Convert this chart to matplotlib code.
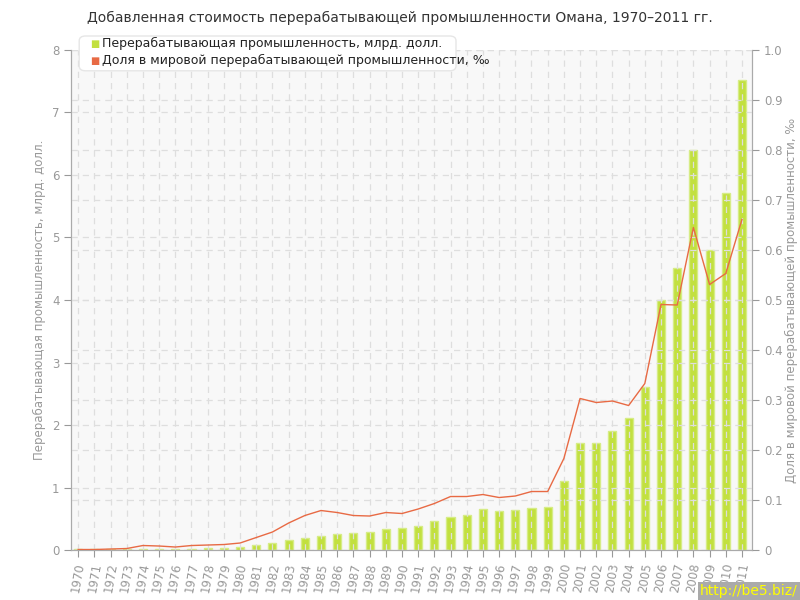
import numpy as np
import matplotlib.pyplot as plt
from matplotlib.patches import FancyBboxPatch

years = list(range(1970, 2012))
value_bn = [0.01, 0.01, 0.01, 0.01, 0.02, 0.02, 0.02, 0.02, 0.03, 0.04,
            0.05, 0.08, 0.11, 0.16, 0.19, 0.23, 0.26, 0.27, 0.29, 0.34,
            0.35, 0.39, 0.46, 0.53, 0.56, 0.66, 0.62, 0.64, 0.67, 0.69,
            1.10, 1.71, 1.71, 1.90, 2.11, 2.61, 4.00, 4.51, 6.40, 4.80,
            5.71, 7.52]
share_permille = [0.001, 0.001, 0.002, 0.003, 0.009, 0.008, 0.006, 0.009, 0.010, 0.011,
                  0.014, 0.025, 0.036, 0.054, 0.069, 0.079, 0.075, 0.069, 0.068, 0.075,
                  0.073, 0.082, 0.093, 0.107, 0.107, 0.111, 0.105, 0.108, 0.117, 0.117,
                  0.183, 0.303, 0.295, 0.298, 0.289, 0.333, 0.491, 0.490, 0.645, 0.531,
                  0.553, 0.661]

GRAY = "#999999"
BAR = "#c2e03f"
LINE = "#e86a44"

fig = plt.figure(figsize=(8, 6), dpi=100)
ax = fig.add_axes([0.089, 0.0833, 0.851, 0.8334])
ax.set_facecolor("#f8f8f8")

ax.bar(years, value_bn, width=0.5, color=BAR, edgecolor="#d6ec86", linewidth=1, zorder=2)
ax.set_xlim(1969.57, 2011.62)
ax.set_ylim(0, 8)
ax.set_yticks(range(0, 9))
ax.set_xticks(years)
ax.set_xticklabels([str(y) for y in years], rotation=80, ha="center", va="top")
ax.grid(True, color="#dedede", linestyle=(0, (5, 4)), linewidth=0.9, zorder=3)
ax.set_axisbelow(False)

ax2 = ax.twinx()
ax2.plot(years, share_permille, color=LINE, linewidth=1.0, zorder=5)
ax2.set_ylim(0, 1)
ax2.set_yticks(np.arange(0, 1.01, 0.1))
ax2.set_yticklabels(["0"] + ["%.1f" % v for v in np.arange(0.1, 1.01, 0.1)])
ax2.grid(True, axis="y", color="#dedede", linestyle=(0, (5, 4)), linewidth=0.9)

for a in (ax, ax2):
    for s in a.spines.values():
        s.set_color("#aaaaaa")
    a.spines["top"].set_visible(False)
    a.tick_params(colors=GRAY, labelsize=8.5, length=5, labelcolor=GRAY)

ax.set_ylabel("Перерабатывающая промышленность, млрд. долл.", color=GRAY, fontsize=8.5)
ax2.set_ylabel("Доля в мировой перерабатывающей промышленности, ‰", color=GRAY,
               fontsize=8.5, labelpad=2)

fig.text(0.5, 0.97, "Добавленная стоимость перерабатывающей промышленности Омана, 1970–2011 гг.",
         ha="center", va="center", fontsize=10, color="#333333")

# legend box
box = FancyBboxPatch((0.102, 0.885), 0.465, 0.052, boxstyle="round,pad=0.003,rounding_size=0.008",
                     transform=fig.transFigure, facecolor="white", edgecolor="#e6e6e6",
                     linewidth=1, zorder=10)
fig.patches.append(box)
fig.text(0.113, 0.927, "■", color=BAR, fontsize=7, va="center", zorder=11)
fig.text(0.128, 0.927, "Перерабатывающая промышленность, млрд. долл.", color="#222222",
         fontsize=9, va="center", zorder=11)
fig.text(0.113, 0.899, "■", color=LINE, fontsize=7, va="center", zorder=11)
fig.text(0.128, 0.899, "Доля в мировой перерабатывающей промышленности, ‰", color="#222222",
         fontsize=9, va="center", zorder=11)

fig.text(0.997, 0.003, "http://be5.biz/", ha="right", va="bottom", color="#ffff00",
         fontsize=10, bbox=dict(facecolor="#aaaaaa", edgecolor="none", pad=1.5))

fig.savefig("out.png", dpi=100)
